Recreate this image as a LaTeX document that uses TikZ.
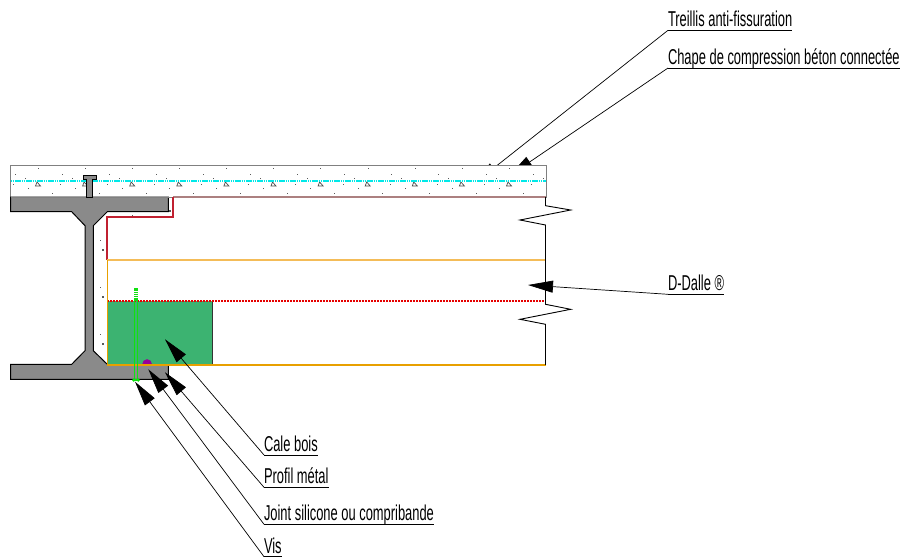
\documentclass[tikz,border=0pt]{standalone}
\usepackage{xcolor}
\usepackage{fontspec}
\setmainfont[FakeStretch=0.6]{Liberation Sans}
\usetikzlibrary{arrows.meta,positioning}
\definecolor{beamgray}{HTML}{8A8A8A}
\definecolor{woodgreen}{HTML}{3CB371}
\definecolor{darkred}{HTML}{C02030}
\definecolor{sealorange}{HTML}{E8A000}
\definecolor{paleorange}{HTML}{F4BC58}
\definecolor{meshcyan}{HTML}{00E8E8}
\definecolor{screwgreen}{HTML}{10E010}

\begin{document}
\begin{tikzpicture}
      [ x=1pt, y=-1pt,
        callout/.style={anchor=south west, inner xsep=0pt, inner ysep=3.6pt, outer sep=0pt,
                        text depth=0pt, font=\fontsize{21.5}{21.5}\selectfont},
        underline/.style={line width=0.8pt},
        leader/.style={line width=0.7pt, -{Triangle[length=25pt,width=12pt]}},
        speck/.style={fill=black!65, inner sep=0pt, minimum size=1pt}
      ]
      \useasboundingbox (0,0) rectangle (904,559);

      % labels
      \node[callout] (treillis) at (668,30.3)  {Treillis anti-fissuration};
      \node[callout] (chape)    at (668,68)    {Chape de compression béton connectée};
      \node[callout] (ddalle)   at (668,294.3) {D-Dalle ®};
      \node[callout] (cale)     at (264,455)   {Cale bois};
      \node[callout] (profil)   at (264,487.3) {Profil métal};
      \node[callout] (joint)    at (264,524.3) {Joint silicone ou compribande};
      \node[callout] (vis)      at (264,556.7) {Vis};

      \foreach \lbl in {treillis,chape,ddalle,cale,profil,joint,vis}
        \draw[underline] (\lbl.south west) -- (\lbl.south east);

      % arrow ends
      \coordinate (treillisend) at (474,183.7);
      \coordinate (chapeend)    at (509,176);
      \coordinate (ddalleend)   at (528,285);
      \coordinate (caleend)     at (165,339.3);
      \coordinate (profilend)   at (165,372.3);
      \coordinate (jointend)    at (148.3,369.3);
      \coordinate (visend)      at (135,381.7);

      % these two end under the slab
      \path[leader] (treillis.south west) edge (treillisend)
                    (chape.south west)    edge (chapeend);

      % slab
      \draw[black!50, fill=white, line width=1pt] (10.5,165.5) rectangle (546,197);
      \begin{scope}
        \clip (10.5,165.5) rectangle (546,197);
        \foreach \k in {0,...,11} {
          \begin{scope}[xshift=47.1*\k]
            \node[speck] (s1) at (38.3,168)  {};
            \node[speck] (s2) at (15,174.7)  {};
            \node[speck] (s3) at (25,178.3)  {};
            \node[speck] (s4) at (13.3,184)  {};
            \node[speck] (s5) at (28.3,188.3) {};
            \node[speck] (s6) at (52.3,193.3) {};
            \draw[black!70, line width=0.7pt] (35.5,186) -- (37,182) -- (40.5,186) -- cycle;
          \end{scope}
        }
      \end{scope}
      \draw[meshcyan, line width=1.1pt, dash pattern=on 1.6pt off 0.6pt] (10.5,181) -- (546,181);
      \draw[red!35!black!50, line width=1.2pt] (173.3,197) -- (546,197);

      % beam
      \draw[black, fill=beamgray, line width=1pt]
            (10.5,197) -- (168.3,197) -- (168.3,211.7) -- (107.3,211.7) -- (93.3,225.7)
            -- (93.3,350.7) -- (107.3,364.3) -- (168.3,364.3) -- (168.3,379.3) -- (10.5,379.3)
            -- (10.5,364.3) -- (71.7,364.3) -- (85,350.7) -- (85,225.7) -- (71.7,211.7)
            -- (10.5,211.7) -- cycle;
      \draw[black!50, line width=1pt] (10.5,197) -- (173.3,197);
      % stud
      \draw[black, fill=beamgray, line width=0.9pt]
            (83.5,175.7) -- (96,175.7) -- (96,179) -- (92.3,179) -- (92.3,197)
            -- (86.5,197) -- (86.5,179) -- (83.5,179) -- cycle;

      % web marks
      \foreach \k in {0,1,2} {
        \node[speck] (w1) at (100,240+47.1*\k)   {};
        \node[speck, minimum size=2pt] (w2) at (103.3,250+47.1*\k) {};
      }
      \node[speck] (w3) at (132.7,215.7) {};
      \node[speck, minimum size=2pt] (w4) at (170,211) {};

      % wood block and profile
      \fill[woodgreen] (107.3,301.3) rectangle (212.3,364.7);
      \draw[black!80, line width=0.9pt] (212.3,301.3) -- (212.3,364.7);
      \fill[violet!80!magenta] (142.3,364) arc[start angle=180, end angle=360, radius=4.8];
      \draw[darkred, line width=1.8pt] (173.3,197) -- (173.3,216.7) -- (107.3,216.7) -- (107.3,259.7);
      \draw[red!90!black, line width=1.8pt, dash pattern=on 2pt off 1pt] (107.3,301.3) -- (545.5,301.3);
      \draw[paleorange, line width=1.8pt] (107.3,259.6) -- (545.5,259.6);
      \draw[sealorange, line width=1.4pt] (107.3,259.7) -- (107.3,364.9) -- (545.5,364.9);

      % broken edge
      \draw[black, line width=0.9pt]
            (545.5,197) -- (545.5,205.7) -- (570.7,210) -- (520,220) -- (545.5,225)
            -- (545.5,304.3) -- (570.7,309.3) -- (520,319.3) -- (545.5,324.3) -- (545.5,364.9);

      % screw
      \draw[screwgreen, line width=1.2pt] (134.3,301) -- (134.3,380) -- (137.7,380) -- (137.7,301);
      \draw[screwgreen, line width=3.4pt, dash pattern=on 1.5pt off 0.4pt] (136,288) -- (136,301);
      \fill[screwgreen] (133.8,380) circle (1.8) (138.2,380) circle (1.8);

      \path[leader] (ddalle.south west) edge (ddalleend)
                    (cale.south west)   edge (caleend)
                    (profil.south west) edge (profilend)
                    (joint.south west)  edge (jointend)
                    (vis.south west)    edge (visend);
\end{tikzpicture}
\end{document}
